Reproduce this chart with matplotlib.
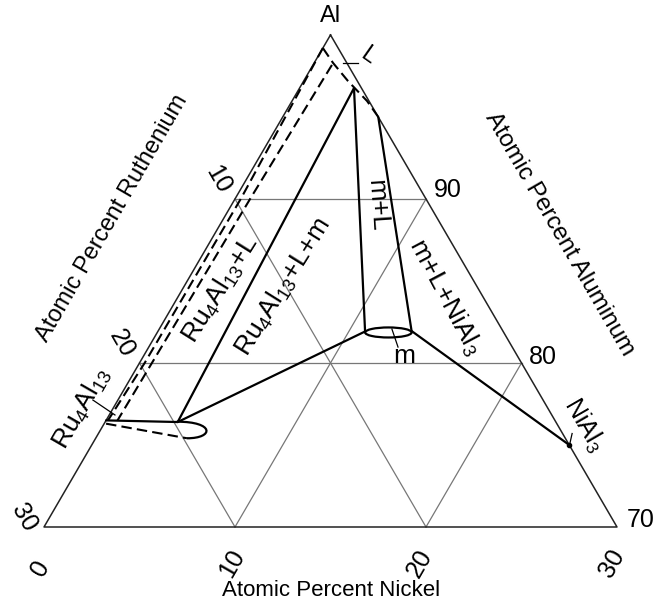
import numpy as np
import matplotlib
matplotlib.use('Agg')
import matplotlib.pyplot as plt
import matplotlib.patches as patches
from matplotlib.path import Path

plt.rcParams['font.family'] = ['Liberation Sans', 'DejaVu Sans']
plt.rcParams['mathtext.fontset'] = 'custom'
plt.rcParams['mathtext.rm'] = 'Liberation Sans'
plt.rcParams['mathtext.default'] = 'regular'

# Al-rich corner of the Al-Ni-Ru isothermal section, compositions as (at% Ni, at% Ru)
grid_vals = [10, 20]
ni_labels = ['0', '10', '20', '30']
al_labels = ['90', '80', '70']
ru_labels = ['10', '20', '30']

ru4al13_top = [(0.0, 23.5), (3.8, 19.8)]
ru4al13_bottom = [(0.1, 23.6), (4.78, 19.81)]
# rounded Ni-rich end of the Ru4Al13 field (start, two control points, end)
ru4al13_end = [(4.78, 19.81), (6.20, 18.40), (5.74, 17.83), (3.74, 19.84)]
liq_point = (2.85, 0.39)
m_left = (10.85, 7.23)
m_right = (13.27, 4.78)
m_center = (12.10, 6.04)
liq_right = (5.0, 0.0)
nial3 = (25.0, 0.0)

liquidus_outer = [(0.0, 0.8), (0.3, 9.7), (0.27, 19.73), (0.1, 23.4)]
liquidus_inner = [(0.99, 0.84), (0.79, 9.21), (0.65, 19.35), (0.6, 22.9)]
liquidus_right = [(0.0, 0.8), (0.99, 0.72), (2.32, 0.49), (3.93, 0.1), (5.0, 0.0)]

L_leader = [(1.51, 0.2), (2.3, -0.59)]
m_leader = [(12.18, 5.75), (13.05, 5.98)]
nial3_leader = [(24.8, -0.5), (25.0, -0.05)]
ru4al13_leader = [(-1.31, 23.57), (0.3, 22.87)]


def tern(pts):
    p = np.asarray(pts, float)
    ni, ru = p[..., 0], p[..., 1]
    a = 30 - ni - ru
    return ni + a / 2, a * np.sqrt(3) / 2


fig = plt.figure(figsize=(6.68, 6.08), dpi=100)
ax = fig.add_axes([0, 0, 1, 1])
ax.set_xlim(-44 / 19.1, 624 / 19.1)
ax.set_ylim(-81 / 18.94, 527 / 18.94)
ax.axis('off')

# grid
for v in grid_vals:
    x, y = tern([(0, v), (v, 0)])          # Al = 100 - v
    ax.plot(x, y, color='#777777', lw=0.9)
    x, y = tern([(v, 0), (v, 30 - v)])     # Ni = v
    ax.plot(x, y, color='#777777', lw=0.9)
    x, y = tern([(0, v), (30 - v, v)])     # Ru = v
    ax.plot(x, y, color='#777777', lw=0.9)

# triangle
x, y = tern([(0, 0), (0, 30), (30, 0), (0, 0)])
ax.plot(x, y, color='#222222', lw=1.1)

blk = dict(color='black', lw=1.6, solid_capstyle='round')
dsh = dict(color='black', lw=1.5, linestyle=(0, (5, 2.5)))

ax.plot(*tern(ru4al13_top), **blk)
ax.plot(*tern(ru4al13_bottom), **dsh)
ex, ey = tern(ru4al13_end)
end_path = Path(np.column_stack([ex, ey]), [Path.MOVETO, Path.CURVE4, Path.CURVE4, Path.CURVE4])
ax.add_patch(patches.PathPatch(end_path, fill=False, ec='black', lw=1.6))

ax.plot(*tern([ru4al13_top[1], liq_point]), **blk)
ax.plot(*tern([liq_point, m_left]), **blk)
ax.plot(*tern([liq_right, m_right]), **blk)
ax.plot(*tern([ru4al13_top[1], m_left]), **blk)
ax.plot(*tern([m_right, nial3]), **blk)

cx, cy = tern(m_center)
lx, _ = tern(m_left)
rx, _ = tern(m_right)
ax.add_patch(patches.Ellipse((cx, cy), rx - lx, 0.53, fill=False, ec='black', lw=1.6))
ax.plot(*tern([nial3]), 'ko', ms=3)

ax.plot(*tern(liquidus_outer), **dsh)
ax.plot(*tern(liquidus_inner), **dsh)
ax.plot(*tern(liquidus_right), **dsh)

for ld in [L_leader, m_leader, nial3_leader, ru4al13_leader]:
    ax.plot(*tern(ld), color='black', lw=0.9)


def txt(px, py, s, rot=0, size=18):
    ax.text(px / 668, 1 - py / 608, s, transform=ax.transAxes, rotation=rot,
            rotation_mode='anchor', ha='center', va='center', fontsize=size)


txt(331, 16, 'Al', size=17)
txt(331, 590, 'Atomic Percent Nickel', size=16)
txt(112, 218, 'Atomic Percent Ruthenium', rot=60, size=17)
txt(560, 234, 'Atomic Percent Aluminum', rot=-60, size=17.5)

for s, (px, py) in zip(ni_labels, [(40, 568), (232, 563), (420, 563), (612, 563)]):
    txt(px, py, s, rot=60)
for s, (px, py) in zip(al_labels, [(448, 190), (543, 357), (641, 520)]):
    txt(px, py, s)
for s, (px, py) in zip(ru_labels, [(218, 180), (122, 344), (24, 518)]):
    txt(px, py, s, rot=-60)

txt(82, 408, 'Ru$_4$Al$_{13}$', rot=60, size=19)
txt(221, 289, 'Ru$_4$Al$_{13}$+L', rot=58, size=19)
txt(283, 287, 'Ru$_4$Al$_{13}$+L+m', rot=58, size=19)
txt(377, 205, 'm+L', rot=-86, size=19)
txt(445, 297, 'm+L+NiAl$_3$', rot=-62, size=19)
txt(404, 356, 'm', size=19)
txt(584, 425, 'NiAl$_3$', rot=-60, size=18)
txt(368, 56, 'L', rot=-35, size=17)

fig.savefig('out.png', dpi=100)
